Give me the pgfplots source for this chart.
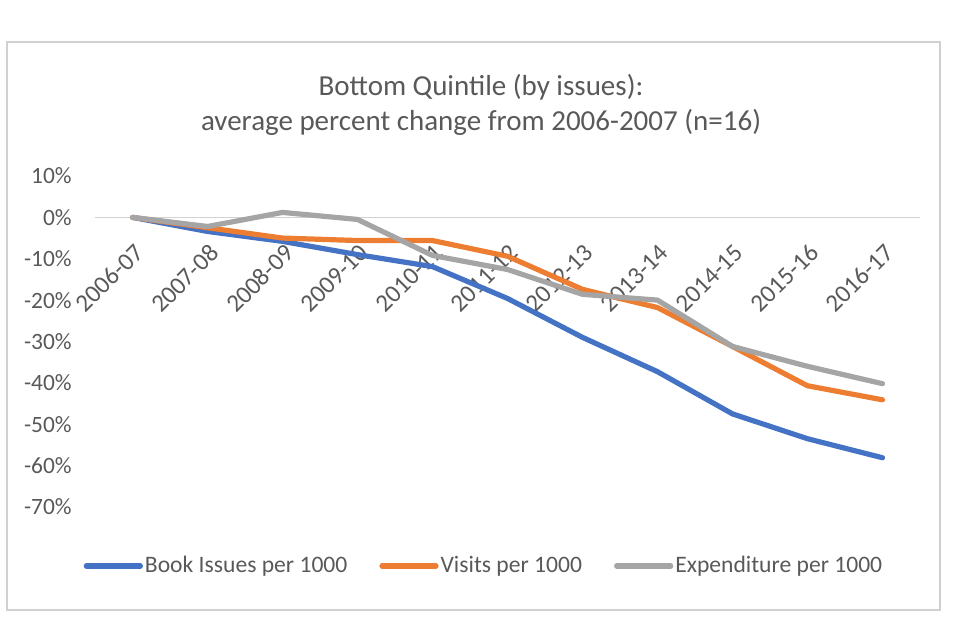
\documentclass[border=0pt]{standalone}
\usepackage{fontspec}
\setmainfont{Carlito}
\usepackage{pgfplots}
\pgfplotsset{compat=1.18}
\definecolor{xlblue}{HTML}{4472C4}
\definecolor{xlorange}{HTML}{ED7D31}
\definecolor{xlgray}{HTML}{A5A5A5}
\definecolor{txt}{HTML}{595959}
\definecolor{frame}{HTML}{D0D0D0}
\begin{document}
\begin{tikzpicture}[x=0.5pt,y=0.5pt]
\path[use as bounding box] (0,0) rectangle (960,640);
\draw[frame, line width=0.6pt] (7,30) rectangle (940,598);
\node[txt, align=center, font=\fontsize{14.5}{17.5}\selectfont] at (481,535)
  {Bottom Quintile (by issues):\\average percent change from 2006-2007 (n=16)};
\begin{axis}[
  at={(47.5pt,66.5pt)}, anchor=south west,
  scale only axis, width=412.5pt, height=165.5pt,
  xmin=-0.5, xmax=10.5, ymin=-70, ymax=10,
  axis x line=middle, axis y line=left,
  x axis line style={-, draw=gray!35, line width=0.6pt},
  y axis line style={draw=none},
  tick style={draw=none},
  xtick={0,...,10},
  xticklabels={2006-07,2007-08,2008-09,2009-10,2010-11,2011-12,2012-13,2013-14,2014-15,2015-16,2016-17},
  xticklabel style={rotate=45, anchor=north east, inner sep=1pt, xshift=-6pt, yshift=-6.5pt,
    font=\fontsize{12.5}{14}\selectfont, text=txt},
  ytick={-70,-60,...,10},
  yticklabels={-70\%,-60\%,-50\%,-40\%,-30\%,-20\%,-10\%,0\%,10\%},
  yticklabel style={anchor=east, xshift=-6pt, font=\fontsize{11.7}{13}\selectfont, text=txt},
  legend columns=3,
  legend style={at={(0.4715,-0.178)}, anchor=center, draw=none, fill=none,
    font=\fontsize{11.8}{13}\selectfont, text=txt,
    /tikz/every even column/.append style={column sep=15pt},
    nodes={inner sep=1pt}},
  legend image code/.code={\draw[#1, line cap=round] (0pt,0pt) -- (27pt,0pt);},
  every axis plot/.append style={line width=2.6pt, line join=round, line cap=round},
  clip=false,
]
\addplot[xlblue] coordinates {(0,0) (1,-3.4) (2,-5.8) (3,-9.0) (4,-11.9) (5,-19.6) (6,-29.0) (7,-37.3) (8,-47.5) (9,-53.5) (10,-58.1)};
\addplot[xlorange] coordinates {(0,0) (1,-2.5) (2,-5.0) (3,-5.6) (4,-5.6) (5,-9.4) (6,-17.4) (7,-21.8) (8,-31.2) (9,-40.7) (10,-44.1)};
\addplot[xlgray] coordinates {(0,0) (1,-2.2) (2,1.2) (3,-0.5) (4,-9.2) (5,-12.6) (6,-18.6) (7,-20.0) (8,-31.2) (9,-36.0) (10,-40.2)};
\legend{Book Issues per 1000, Visits per 1000, Expenditure per 1000}
\end{axis}
\end{tikzpicture}
\end{document}
